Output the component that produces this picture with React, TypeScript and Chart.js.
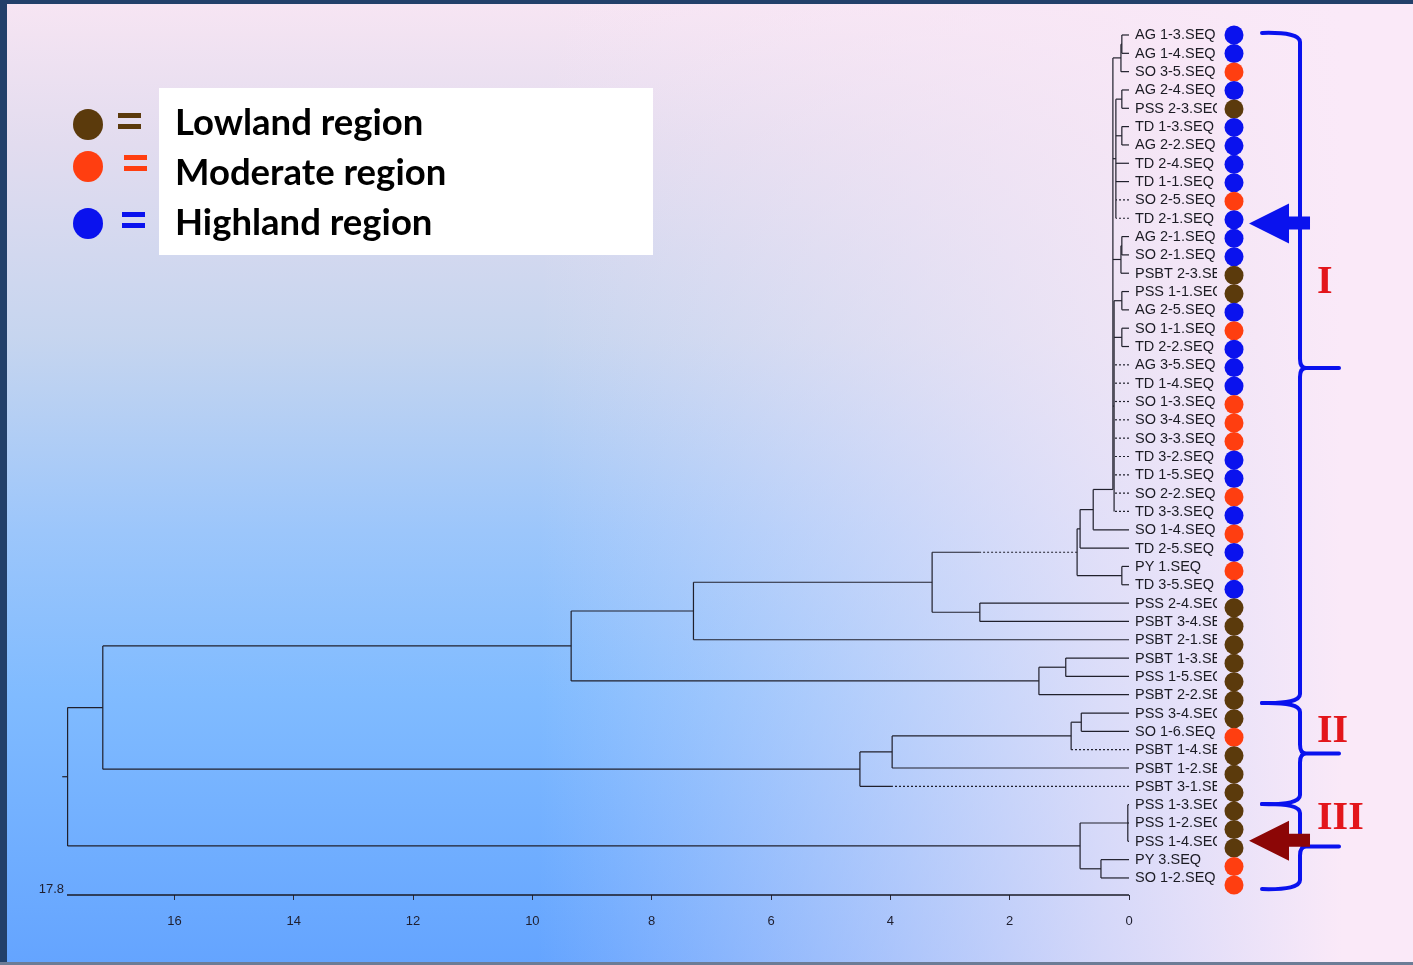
import React, { useEffect, useRef } from 'react';
import { Chart, registerables } from 'chart.js';
Chart.register(...registerables);

// ---------- DATA ----------
const leafNames = [
  'AG 1-3.SEQ', 'AG 1-4.SEQ', 'SO 3-5.SEQ', 'AG 2-4.SEQ', 'PSS 2-3.SEQ', 'TD 1-3.SEQ', 'AG 2-2.SEQ',
  'TD 2-4.SEQ', 'TD 1-1.SEQ', 'SO 2-5.SEQ', 'TD 2-1.SEQ', 'AG 2-1.SEQ', 'SO 2-1.SEQ', 'PSBT 2-3.SEQ',
  'PSS 1-1.SEQ', 'AG 2-5.SEQ', 'SO 1-1.SEQ', 'TD 2-2.SEQ', 'AG 3-5.SEQ', 'TD 1-4.SEQ', 'SO 1-3.SEQ',
  'SO 3-4.SEQ', 'SO 3-3.SEQ', 'TD 3-2.SEQ', 'TD 1-5.SEQ', 'SO 2-2.SEQ', 'TD 3-3.SEQ', 'SO 1-4.SEQ',
  'TD 2-5.SEQ', 'PY 1.SEQ', 'TD 3-5.SEQ', 'PSS 2-4.SEQ', 'PSBT 3-4.SEQ', 'PSBT 2-1.SEQ', 'PSBT 1-3.SEQ',
  'PSS 1-5.SEQ', 'PSBT 2-2.SEQ', 'PSS 3-4.SEQ', 'SO 1-6.SEQ', 'PSBT 1-4.SEQ', 'PSBT 1-2.SEQ',
  'PSBT 3-1.SEQ', 'PSS 1-3.SEQ', 'PSS 1-2.SEQ', 'PSS 1-4.SEQ', 'PY 3.SEQ', 'SO 1-2.SEQ',
];
// 0 = Lowland, 1 = Moderate, 2 = Highland
const leafRegions = [
  2, 2, 1, 2, 0, 2, 2, 2, 2, 1, 2, 2, 2, 0, 0, 2, 1, 2, 2, 2, 1, 1, 1, 2, 2, 1, 2, 1, 2, 1, 2,
  0, 0, 0, 0, 0, 0, 0, 1, 0, 0, 0, 0, 0, 0, 1, 1,
];
const regionNames = ['Lowland region', 'Moderate region', 'Highland region'];
const regionColors = ['#5b3a0c', '#ff3e10', '#0a12ee'];

// Merges: children are leaves "L#" or earlier merges "N#"
const mergeChildren: string[][] = [
  ['L0', 'L1'],                       // N0
  ['N0', 'L2'],                       // N1
  ['L3', 'L4'],                       // N2
  ['L5', 'L6'],                       // N3
  ['N2', 'N3', 'L7', 'L8', 'L9', 'L10'], // N4
  ['L11', 'L12'],                     // N5
  ['N5', 'L13'],                      // N6
  ['L14', 'L15'],                     // N7
  ['L16', 'L17'],                     // N8
  ['N7', 'N8', 'L18', 'L19', 'L20', 'L21', 'L22', 'L23', 'L24', 'L25', 'L26'], // N9
  ['N1', 'N4', 'N6', 'N9'],           // N10
  ['N10', 'L27'],                     // N11
  ['N11', 'L28'],                     // N12
  ['L29', 'L30'],                     // N13
  ['N12', 'N13'],                     // N14
  ['L31', 'L32'],                     // N15
  ['N14', 'N15'],                     // N16
  ['N16', 'L33'],                     // N17
  ['L34', 'L35'],                     // N18
  ['N18', 'L36'],                     // N19
  ['N17', 'N19'],                     // N20
  ['L37', 'L38'],                     // N21
  ['N21', 'L39'],                     // N22
  ['N22', 'L40'],                     // N23
  ['N23', 'L41'],                     // N24
  ['N20', 'N24'],                     // N25
  ['L42', 'L43', 'L44'],              // N26
  ['L45', 'L46'],                     // N27
  ['N26', 'N27'],                     // N28
  ['N25', 'N28'],                     // N29 (root)
];
const mergeHeights = [
  0.12, 0.135, 0.12, 0.12, 0.22, 0.12, 0.135, 0.12, 0.12, 0.25,
  0.27, 0.60, 0.82, 0.12, 0.87, 2.50, 3.30, 7.30, 1.06, 1.51,
  9.35, 0.80, 0.97, 3.97, 4.51, 17.20, 0.02, 0.47, 0.82, 17.79,
];
const nodeYOverride: Record<number, number> = { 10: 24.8 };
// links drawn dotted, up to the given distance
const dottedLinks: Record<string, number> = {
  L9: 99, L10: 99, L18: 99, L19: 99, L20: 99, L21: 99, L22: 99, L23: 99, L24: 99, L25: 99, L26: 99,
  N14: 2.5, L39: 99, L41: 3.97,
};
const rootTail = 17.88;
const xTicks = [0, 2, 4, 6, 8, 10, 12, 14, 16];
const axisMax = 17.8;
const dotColumn = -1.76;

const clusterLabels = ['I', 'II', 'III'];
const clusterBounds = [-0.11, 36.15, 41.62, 46.22];
const clusterLabelY = [13.3, 37.6, 42.3];
const arrowLeaf = [10.2, 43.6];
const arrowColors = ['#0a12ee', '#8c0606'];

// ---------- BUILD ----------
type Seg = { x1: number; x2: number; y1: number; y2: number; dotted: boolean };
function buildSegments(): Seg[] {
  const nodeY: number[] = [];
  const yOf = (r: string) => (r[0] === 'L' ? +r.slice(1) : nodeY[+r.slice(1)]);
  const hOf = (r: string) => (r[0] === 'L' ? 0 : mergeHeights[+r.slice(1)]);
  const segs: Seg[] = [];
  mergeChildren.forEach((kids, i) => {
    const h = mergeHeights[i];
    const ys = kids.map(yOf);
    const ny = nodeYOverride[i] ?? (ys[0] + ys[ys.length - 1]) / 2;
    nodeY[i] = ny;
    segs.push({ x1: h, x2: h, y1: Math.min(ys[0], ny), y2: Math.max(ys[ys.length - 1], ny), dotted: false });
    kids.forEach((k, j) => {
      const from = hOf(k);
      const d = dottedLinks[k];
      if (d !== undefined) {
        const m = Math.min(d, h);
        segs.push({ x1: from, x2: m, y1: ys[j], y2: ys[j], dotted: true });
        if (m < h) segs.push({ x1: m, x2: h, y1: ys[j], y2: ys[j], dotted: false });
      } else {
        segs.push({ x1: from, x2: h, y1: ys[j], y2: ys[j], dotted: false });
      }
    });
  });
  const root = mergeChildren.length - 1;
  segs.push({ x1: mergeHeights[root], x2: rootTail, y1: nodeY[root], y2: nodeY[root], dotted: false });
  return segs;
}

const W = 1413;
const H = 965;
const Y_MIN = -1.473;
const Y_MAX = 46.93;

const overlayPlugin = {
  id: 'overlay',
  afterDatasetsDraw(chart: any) {
    const { ctx, scales } = chart;
    const xs = scales.x;
    const ys = scales.y;
    const y2 = scales.y2;
    const x0 = xs.getPixelForValue(0);
    const dotPx = xs.getPixelForValue(dotColumn);
    ctx.save();
    // leaf labels
    ctx.beginPath();
    ctx.rect(x0 + 4, 0, 84, H);
    ctx.clip();
    ctx.font = '14.5px "Liberation Sans", Arial, sans-serif';
    ctx.fillStyle = '#1c1c24';
    ctx.textBaseline = 'middle';
    ctx.textAlign = 'left';
    leafNames.forEach((n, i) => ctx.fillText(n, x0 + 6, ys.getPixelForValue(i) + 0.5));
    ctx.restore();

    // 17.8 label
    ctx.save();
    ctx.font = '13px "Liberation Sans", Arial, sans-serif';
    ctx.fillStyle = '#1f1f2f';
    ctx.textAlign = 'right';
    ctx.textBaseline = 'middle';
    ctx.fillText(String(axisMax), xs.getPixelForValue(axisMax) - 3, chart.chartArea.bottom - 6);
    ctx.restore();

    // braces
    ctx.save();
    ctx.strokeStyle = '#0a12ee';
    ctx.lineWidth = 4;
    ctx.lineCap = 'round';
    ctx.lineJoin = 'round';
    const L = dotPx + 28, S = dotPx + 66, T = dotPx + 105;
    for (let c = 0; c < clusterLabels.length; c++) {
      const a = y2.getPixelForValue(clusterBounds[c]);
      const b = y2.getPixelForValue(clusterBounds[c + 1]);
      const m = (a + b) / 2;
      ctx.beginPath();
      ctx.moveTo(L, a);
      ctx.quadraticCurveTo(S, a - 1, S, a + 9);
      ctx.lineTo(S, m - 9);
      ctx.quadraticCurveTo(S, m, S + 6, m);
      ctx.lineTo(T, m);
      ctx.moveTo(S + 6, m);
      ctx.quadraticCurveTo(S, m, S, m + 9);
      ctx.lineTo(S, b - 9);
      ctx.quadraticCurveTo(S, b + 1, L, b);
      ctx.stroke();
    }
    ctx.restore();

    // arrows
    arrowLeaf.forEach((v, i) => {
      const y = y2.getPixelForValue(v);
      ctx.save();
      ctx.fillStyle = arrowColors[i];
      ctx.beginPath();
      ctx.moveTo(dotPx + 15, y);
      ctx.lineTo(dotPx + 55, y - 20);
      ctx.lineTo(dotPx + 55, y - 7);
      ctx.lineTo(dotPx + 76, y - 7);
      ctx.lineTo(dotPx + 76, y + 6);
      ctx.lineTo(dotPx + 55, y + 6);
      ctx.lineTo(dotPx + 55, y + 20);
      ctx.closePath();
      ctx.fill();
      ctx.restore();
    });

    // cluster numerals
    ctx.save();
    ctx.font = 'bold 40px "Liberation Serif", "Times New Roman", serif';
    ctx.fillStyle = '#e3161b';
    ctx.textAlign = 'left';
    ctx.textBaseline = 'middle';
    clusterLabels.forEach((t, i) => ctx.fillText(t, dotPx + 83, y2.getPixelForValue(clusterLabelY[i]) + 2));
    ctx.restore();
  },
};

export default function App() {
  const ref = useRef<HTMLCanvasElement | null>(null);
  useEffect(() => {
    if (!ref.current) return;
    const segs = buildSegments();
    const lineSets: any[] = segs.map((s) => ({
      data: [{ x: s.x1, y: s.y1 }, { x: s.x2, y: s.y2 }],
      showLine: true,
      borderColor: '#20202c',
      borderWidth: 1.2,
      borderDash: s.dotted ? [2, 2] : [],
      pointRadius: 0,
      clip: false,
      yAxisID: 'y',
    }));
    // axis baseline from 0 to 17.8
    lineSets.push({
      data: [{ x: 0, y: Y_MAX }, { x: axisMax, y: Y_MAX }],
      showLine: true,
      borderColor: '#1a1a24',
      borderWidth: 1.4,
      pointRadius: 0,
      clip: false,
      yAxisID: 'y',
    });
    const dotSet = {
      data: leafNames.map((_, i) => ({ x: dotColumn, y: i })),
      pointRadius: 9.5,
      pointBackgroundColor: leafRegions.map((r) => regionColors[r]),
      pointBorderWidth: 0,
      pointBorderColor: 'rgba(0,0,0,0)',
      clip: false,
      yAxisID: 'y2',
    };
    const chart = new Chart(ref.current, {
      type: 'scatter',
      data: { datasets: [...lineSets, dotSet] },
      plugins: [overlayPlugin],
      options: {
        animation: false,
        responsive: false,
        events: [],
        layout: { autoPadding: false, padding: { left: 67, right: 0, top: 8, bottom: 0 } },
        plugins: { legend: { display: false }, tooltip: { enabled: false } },
        scales: {
          x: {
            type: 'linear',
            reverse: true,
            min: -4.76,
            max: axisMax,
            position: 'bottom',
            afterFit: (s: any) => { s.height = 70; s.paddingLeft = 0; s.paddingRight = 0; },
            afterBuildTicks: (s: any) => { s.ticks = xTicks.map((v) => ({ value: v })); },
            grid: { drawOnChartArea: false, drawTicks: true, tickLength: 5, color: '#2a2a3a', lineWidth: 1 },
            border: { display: false },
            ticks: { padding: 14, color: '#1f1f2f', font: { family: '"Liberation Sans", Arial, sans-serif', size: 13 } },
          },
          y: { type: 'linear', reverse: true, min: Y_MIN, max: Y_MAX, display: false },
          y2: { type: 'linear', reverse: true, min: -1.461, max: 46.54, display: false },
        },
      } as any,
    });
    return () => chart.destroy();
  }, []);

  const legendY = [121, 171, 221];
  const dotY = [124, 166, 223];
  const eqX = [118, 124, 122];
  return (
    <div
      style={{
        position: 'fixed', left: 0, top: 0, width: W, height: H, overflow: 'hidden',
        background:
          'linear-gradient(to right, rgba(249,232,247,0) 38%, rgba(249,232,247,0.75) 78%, rgba(250,233,248,1) 95%),' +
          'linear-gradient(to bottom, #f7e5f3 0%, #e2dcef 15%, #c6d5ef 35%, #9cc6fb 55%, #80bbff 72%, #64a4ff 100%)',
      }}
    >
      <canvas ref={ref} width={W} height={H} style={{ position: 'absolute', left: 0, top: 0 }} />
      <div style={{ position: 'absolute', left: 0, top: 0, width: W, height: 4, background: '#22406a' }} />
      <div style={{ position: 'absolute', left: 0, top: 0, width: 7, height: H, background: '#22406a' }} />
      <div style={{ position: 'absolute', left: 0, top: H - 3, width: W, height: 3, background: '#6c7c96' }} />
      <div style={{ position: 'absolute', left: 159, top: 88, width: 494, height: 167, background: '#ffffff' }} />
      {regionNames.map((n, i) => (
        <React.Fragment key={n}>
          <div
            style={{
              position: 'absolute', left: 73, top: dotY[i] - 15, width: 30, height: 31, borderRadius: '50%',
              background: regionColors[i],
            }}
          />
          <div style={{ position: 'absolute', left: eqX[i], top: dotY[i] - 11, width: 23, height: 5, background: regionColors[i] }} />
          <div style={{ position: 'absolute', left: eqX[i], top: dotY[i] + 0, width: 23, height: 5, background: regionColors[i] }} />
          <div
            style={{
              position: 'absolute', left: 175, top: legendY[i] - 25, height: 50, lineHeight: '50px',
              fontFamily: 'Lato, "Open Sans", sans-serif', fontWeight: 700, fontSize: 36.5, color: '#000',
              whiteSpace: 'nowrap',
            }}
          >
            {n}
          </div>
        </React.Fragment>
      ))}
    </div>
  );
}
